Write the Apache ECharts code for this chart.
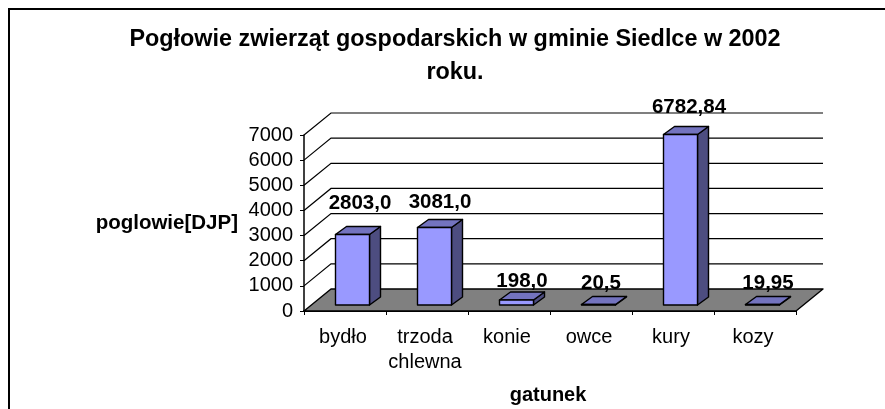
<!DOCTYPE html>
<html><head><meta charset="utf-8">
<style>html,body{margin:0;padding:0;background:#fff}#c{width:885px;height:409px}</style>
<script src="https://cdn.jsdelivr.net/npm/echarts@6/dist/echarts.min.js"></script>
</head><body><div id="c"></div>
<script>
const categories = ['bydło', 'trzoda\nchlewna', 'konie', 'owce', 'kury', 'kozy'];
const values = [2803.0, 3081.0, 198.0, 20.5, 6782.84, 19.95];
const valueLabels = ['2803,0', '3081,0', '198,0', '20,5', '6782,84', '19,95'];
const gridValues = [0, 1000, 2000, 3000, 4000, 5000, 6000, 7000];
const labelOffsetY = [31, 25, 19, 21, 27, 21];
const labelOffsetX = [15, 13, 13, 10, 16, 13];

const FONT = '"Liberation Sans", Arial, sans-serif';
const DX = 27, DY = 22;          // depth of the 3D box
const BAR_W = 34, BAR_DX = 11, BAR_DY = 8, BAR_IN_X = 7.5, BAR_IN_Y = 6;

const chart = echarts.init(document.getElementById('c'), null, { renderer: 'canvas' });

function poly(points, fill) {
  return { type: 'polygon', shape: { points },
    style: { fill, stroke: '#000', lineWidth: 1.4, lineJoin: 'round' } };
}
function wall(params, api) {
  const v = api.value(0);
  const a = api.coord([0, v]);
  const band = api.size([1, 0])[0];
  const left = a[0] - band / 2;
  const right = left + band * categories.length;
  const y = a[1];
  const children = [];
  if (v === 0) {
    children.push(poly([[left, y], [right, y], [right + DX, y - DY], [left + DX, y - DY]], '#808080'));
  } else {
    children.push({ type: 'polyline', shape: { points: [[left, y], [left + DX, y - DY], [right + DX, y - DY]] },
      style: { fill: null, stroke: '#000', lineWidth: 1.2 } });
  }
  return { type: 'group', children };
}
function bar(params, api) {
  const i = api.value(0);
  const top = api.coord([i, api.value(1)]);
  const base = api.coord([i, 0]);
  const x0 = top[0] - BAR_W / 2 + BAR_IN_X;
  const x1 = x0 + BAR_W;
  const yb = base[1] - BAR_IN_Y;
  const yt = top[1] - BAR_IN_Y;
  return { type: 'group', children: [
    poly([[x1, yb], [x1 + BAR_DX, yb - BAR_DY], [x1 + BAR_DX, yt - BAR_DY], [x1, yt]], '#4D4D80'),
    poly([[x0, yt], [x1, yt], [x1 + BAR_DX, yt - BAR_DY], [x0 + BAR_DX, yt - BAR_DY]], '#7373BF'),
    poly([[x0, yb], [x1, yb], [x1, yt], [x0, yt]], '#9999FF'),
    { type: 'text', z2: 5, style: {
      text: valueLabels[i], x: top[0] + labelOffsetX[i], y: top[1] - BAR_IN_Y - labelOffsetY[i],
      align: 'center', verticalAlign: 'middle', fill: '#000', font: 'bold 20.5px ' + FONT } }
  ] };
}

chart.setOption({
  animation: false,
  backgroundColor: '#fff',
  title: {
    text: 'Pogłowie zwierząt gospodarskich w gminie Siedlce w 2002\nroku.',
    left: 450, top: 18, textAlign: 'center',
    textStyle: { fontFamily: FONT, fontSize: 23.4, fontWeight: 'bold', color: '#000', lineHeight: 33 }
  },
  graphic: [
    { type: 'polyline', silent: true, shape: { points: [[9, 409], [9, 9], [885, 9]] },
      style: { fill: null, stroke: '#000', lineWidth: 2 } }
  ],
  grid: { left: 304, right: 89, top: 135, bottom: 98, containLabel: false },
  xAxis: {
    type: 'category', data: categories, boundaryGap: true,
    name: 'gatunek', nameLocation: 'middle', nameGap: 74,
    nameTextStyle: { fontFamily: FONT, fontSize: 20, fontWeight: 'bold', color: '#000', padding: [0, 4, 0, 0] },
    axisLine: { show: true, lineStyle: { color: '#000', width: 2 } },
    axisTick: { show: true, alignWithLabel: false, length: 4, lineStyle: { color: '#000', width: 1 } },
    axisLabel: { fontFamily: FONT, fontSize: 20, color: '#000', margin: 14, lineHeight: 25, interval: 0, padding: [0, 4, 0, 0] },
    splitLine: { show: false }
  },
  yAxis: {
    type: 'value', min: 0, max: 7000, interval: 1000,
    name: 'poglowie[DJP]', nameLocation: 'middle', nameRotate: 0, nameGap: 66,
    nameTextStyle: { fontFamily: FONT, fontSize: 20.5, fontWeight: 'bold', color: '#000' },
    axisLine: { show: true, lineStyle: { color: '#000', width: 1.5 } },
    axisTick: { show: true, length: 4, lineStyle: { color: '#000', width: 1 } },
    axisLabel: { fontFamily: FONT, fontSize: 20, color: '#000', margin: 11, formatter: v => String(v) },
    splitLine: { show: false }
  },
  series: [
    { type: 'custom', name: 'wall', coordinateSystem: 'cartesian2d', z: 1, silent: true,
      encode: { x: 1, y: 0 },
      data: gridValues.map(v => [v, 0]), renderItem: wall, clip: false },
    { type: 'custom', name: 'pogłowie', coordinateSystem: 'cartesian2d', z: 3, silent: true,
      encode: { x: 0, y: 1 },
      data: values.map((v, i) => [i, v]), renderItem: bar, clip: false }
  ]
});
</script></body></html>
